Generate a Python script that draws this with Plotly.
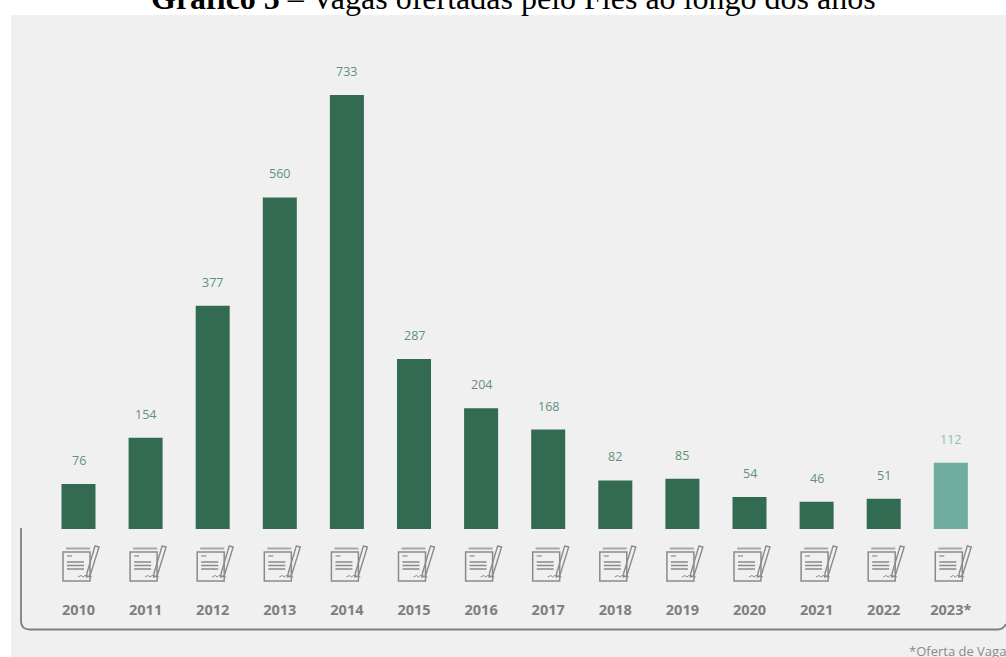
import plotly.graph_objects as go

# Vagas ofertadas por ano
anos = ["2010", "2011", "2012", "2013", "2014", "2015", "2016",
        "2017", "2018", "2019", "2020", "2021", "2022", "2023*"]
vagas = [76, 154, 377, 560, 733, 287, 204, 168, 82, 85, 54, 46, 51, 112]

titulo_negrito = "Gráfico 5"
titulo_resto = " – Vagas ofertadas pelo Fies ao longo dos anos"
nota = "*Oferta de Vagas"

VERDE = "#336b52"
VERDE_CLARO = "#6fada1"
ROTULO = "#5f9079"
ROTULO_CLARO = "#8cc0b3"
CINZA = "#7f7f7f"
ICONE = "#8a8a8a"

W, H = 1006, 657
BASE = 529  # linha de base das barras, em pixels a partir do topo
PASSO = 67.1
X0 = 78.5


def px(x):
    return x / W


def py(y):
    return (BASE - y) / BASE


def linha(x0, y0, x1, y1, largura=1.2, cor=ICONE):
    return dict(type="line", xref="paper", yref="paper", layer="above",
                x0=px(x0), y0=py(y0), x1=px(x1), y1=py(y1),
                line=dict(color=cor, width=largura))


def caminho(pontos, fechado=False):
    d = "M " + " L ".join(f"{px(x):.5f},{py(y):.5f}" for x, y in pontos)
    return d + (" Z" if fechado else "")


def icone(cx):
    # Folha com linhas de texto, assinatura e caneta
    dx = cx - 78.5
    formas = [
        dict(type="rect", xref="paper", yref="paper", layer="above",
             x0=px(63 + dx), x1=px(90 + dx), y0=py(552), y1=py(581),
             line=dict(color=ICONE, width=1.5)),
        linha(66 + dx, 548.5, 90 + dx, 548.5, 2.0, "#a8a8a8"),
        linha(67 + dx, 556, 72 + dx, 556, 1.2),
        linha(67 + dx, 562, 84 + dx, 562, 1.5),
        linha(67 + dx, 565.5, 84 + dx, 565.5, 1.5),
        linha(67 + dx, 569, 84 + dx, 569, 1.5),
    ]
    formas.append(dict(
        type="path", xref="paper", yref="paper", layer="above",
        path=caminho([(95 + dx, 546), (99 + dx, 547), (90 + dx, 576),
                      (86.5 + dx, 577), (87 + dx, 573)], True),
        line=dict(color=ICONE, width=1.4),
    ))
    formas.append(dict(
        type="path", xref="paper", yref="paper", layer="above",
        path=caminho([(78 + dx, 577), (81 + dx, 575.5), (83 + dx, 577),
                      (85 + dx, 575.5), (92 + dx, 577)]),
        line=dict(color=ICONE, width=1.0),
    ))
    return formas


formas = [
    # Fundo cinza do painel
    dict(type="rect", xref="paper", yref="paper", layer="below",
         x0=px(11), x1=px(W), y0=py(15), y1=py(H),
         fillcolor="#f0f0f0", line=dict(width=0)),
    # Moldura inferior
    dict(type="path", xref="paper", yref="paper", layer="above",
         path=(f"M {px(21):.5f},{py(528):.5f} L {px(21):.5f},{py(621):.5f} "
               f"Q {px(21):.5f},{py(629.5):.5f} {px(30):.5f},{py(629.5):.5f} "
               f"L {px(998):.5f},{py(629.5):.5f} "
               f"Q {px(1003):.5f},{py(629.5):.5f} {px(1006):.5f},{py(624):.5f}"),
         line=dict(color=CINZA, width=1.8)),
]
for i in range(len(anos)):
    formas += icone(X0 + PASSO * i)

# Valores acima das barras; a posição usa o índice da categoria
anotacoes = [
    dict(x=i, y=v, xref="x", yref="y", text=str(v), showarrow=False,
         yshift=23.5, yanchor="middle",
         font=dict(family="Open Sans", size=12.5,
                   color=ROTULO_CLARO if a.endswith("*") else ROTULO))
    for i, (a, v) in enumerate(zip(anos, vagas))
]
anotacoes += [
    dict(x=px(513.5), y=py(18), xref="paper", yref="paper", xanchor="center",
         yanchor="bottom", showarrow=False,
         text=f"<b>{titulo_negrito}</b>{titulo_resto}",
         font=dict(family="Liberation Serif", size=32, color="#000000")),
    dict(x=px(907), y=py(651), xref="paper", yref="paper", xanchor="left",
         yanchor="middle", showarrow=False, text=nota,
         font=dict(family="Open Sans", size=13, color="#8a8a8a")),
]

fig = go.Figure(go.Bar(
    x=anos, y=vagas, width=0.507,
    marker=dict(color=[VERDE_CLARO if a.endswith("*") else VERDE for a in anos],
                line=dict(width=0)),
    hovertemplate="%{x}: %{y}<extra></extra>",
))
fig.update_layout(
    width=W, height=H,
    margin=dict(l=0, r=0, t=0, b=H - BASE, pad=0),
    paper_bgcolor="#ffffff", plot_bgcolor="rgba(0,0,0,0)",
    showlegend=False, shapes=formas, annotations=anotacoes,
    xaxis=dict(type="category", categoryorder="array", categoryarray=anos,
               range=[-X0 / PASSO, (W - X0) / PASSO],
               showgrid=False, zeroline=False, showline=False, ticks="",
               ticklabelstandoff=70,
               tickfont=dict(family="Open Sans", size=14.5, color=CINZA,
                             weight="bold")),
    yaxis=dict(range=[0, BASE / 0.592], visible=False, showgrid=False,
               zeroline=False),
)
fig.write_html("out.html", config=dict(displayModeBar=False))
